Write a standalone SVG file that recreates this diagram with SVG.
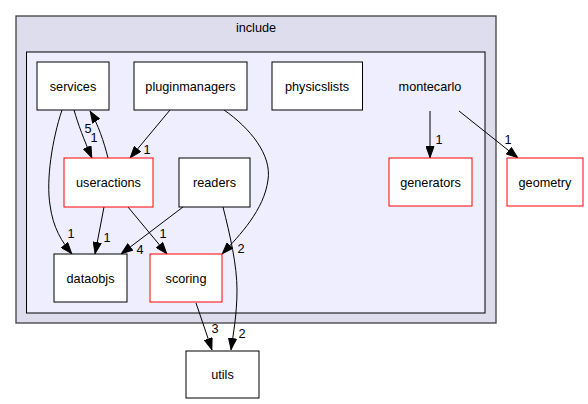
<svg xmlns="http://www.w3.org/2000/svg" width="588" height="404" viewBox="0 0 588 404">
<style>
text{font-family:"Liberation Sans",Arial,sans-serif;font-size:12.7px;fill:#000;text-anchor:middle}
.n{fill:#fff;stroke:#000;stroke-width:1}
.r{fill:#fff;stroke:#ff0000;stroke-width:1}
.e{fill:none;stroke:#000;stroke-width:1;marker-end:url(#ah)}
</style>
<defs>
<marker id="ah" viewBox="0 0 12 9" refX="12" refY="4.5" markerWidth="12" markerHeight="9" markerUnits="userSpaceOnUse" orient="auto">
<path d="M0.5,0.5 L11.5,4.5 L0.5,8.5 z" fill="#000" stroke="#000"/>
</marker>
</defs>
<rect width="588" height="404" fill="#fff"/>
<g id="cluster_include">
<rect x="16" y="16" width="480" height="307" fill="#ddddee" stroke="#404040" stroke-width="1.3"/>
<text x="256" y="32">include</text>
</g>
<g id="cluster_montecarlo">
<rect x="26.5" y="52" width="458.5" height="261" fill="#eeeeff" stroke="#000"/>
<text x="430" y="90.5">montecarlo</text>
</g>
<g id="edges">
<path class="e" d="M74,110 C78,124 84,140 92,158"/>
<path class="e" d="M108,158 C104,142 98,124 90,111"/>
<path class="e" d="M62,110 C52,140 46,180 50,205 C53,228 62,242 72,254"/>
<path class="e" d="M170,110 L130,158"/>
<path class="e" d="M224,110 C250,128 272,155 268,180 C264,210 240,235 222,254"/>
<path class="e" d="M104,207 L95,254"/>
<path class="e" d="M128,207 L167,254"/>
<path class="e" d="M183,207 L121,254"/>
<path class="e" d="M223,207 C230,235 237,265 237,290 C237,315 233,335 231,350"/>
<path class="e" d="M196,303 L212,350"/>
<path class="e" d="M430,111 L430,158"/>
<path class="e" d="M459,111 L518,158"/>
<text x="94" y="142">1</text>
<text x="88" y="133">5</text>
<text x="71" y="238">1</text>
<text x="147" y="154">1</text>
<text x="241" y="253">2</text>
<text x="107" y="242">1</text>
<text x="163" y="238">1</text>
<text x="140" y="254">4</text>
<text x="242" y="338">2</text>
<text x="215" y="333">3</text>
<text x="439" y="144">1</text>
<text x="508" y="144">1</text>
</g>
<g id="services"><rect class="n" x="37" y="62" width="72" height="48"/><text x="73" y="90.5">services</text></g>
<g id="pluginmanagers"><rect class="n" x="134" y="62" width="113" height="48"/><text x="190.5" y="90.5">pluginmanagers</text></g>
<g id="physicslists"><rect class="n" x="272" y="62" width="90.5" height="48"/><text x="317" y="90.5">physicslists</text></g>
<g id="generators"><rect class="r" x="389" y="158" width="83" height="48"/><text x="430.5" y="186.5">generators</text></g>
<g id="geometry"><rect class="r" x="507" y="158" width="76" height="48"/><text x="545" y="186.5">geometry</text></g>
<g id="useractions"><rect class="r" x="64" y="158" width="89" height="49"/><text x="108.5" y="186.5">useractions</text></g>
<g id="readers"><rect class="n" x="179" y="158" width="71" height="49"/><text x="214.5" y="186.5">readers</text></g>
<g id="dataobjs"><rect class="n" x="54" y="254" width="73" height="48"/><text x="90.5" y="282.5">dataobjs</text></g>
<g id="scoring"><rect class="r" x="150" y="254" width="72" height="48"/><text x="186" y="282.5">scoring</text></g>
<g id="utils"><rect class="n" x="186" y="351" width="73" height="47"/><text x="222.5" y="379">utils</text></g>
</svg>
